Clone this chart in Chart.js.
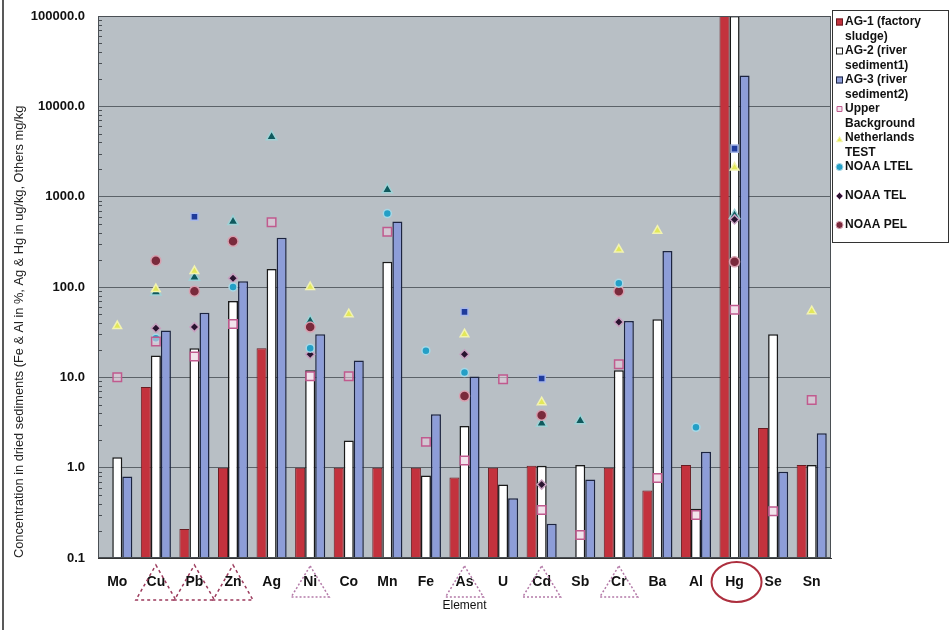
<!DOCTYPE html>
<html>
<head>
<meta charset="utf-8">
<script src="https://cdn.jsdelivr.net/npm/chart.js@4.4.0/dist/chart.umd.min.js"></script>
<style>
  html, body { margin: 0; padding: 0; background: #fff; }
  #wrap { width: 950px; height: 630px; }
</style>
</head>
<body>
<div id="wrap"><canvas id="bar-chart" width="950" height="630"></canvas></div>
<script>
var elements = ['Mo','Cu','Pb','Zn','Ag','Ni','Co','Mn','Fe','As','U','Cd','Sb','Cr','Ba','Al','Hg','Se','Sn'];
var yTicks = [0.1, 1, 10, 100, 1000, 10000, 100000];

// bars
var ag1 = [null, 7.8, 0.21, 1.0, 21, 1.0, 1.0, 1.0, 1.0, 0.78, 1.0, 1.05, null, 1.0, 0.56, 1.07, 100000, 2.75, 1.07];
var ag2 = [1.3, 17.5, 21, 70, 158, 12, 2.0, 190, 0.82, 2.9, 0.65, 1.05, 1.07, 12, 44, 0.35, 100000, 30, 1.07];
var ag3 = [0.8, 33, 52, 116, 350, 30, 15.4, 530, 3.9, 10.2, 0.46, 0.24, 0.74, 42, 250, 1.5, 22000, 0.9, 2.4];

// reference values (markers)
var upperBg  = [10, 25, 17, 39, 520, 10.3, 10.3, 410, 1.93, 1.2, 9.5, 0.34, 0.18, 14, 0.77, 0.3, 56, 0.33, 5.6];
var nlTest   = [37, 95, 150, null, null, 100, 50, null, null, 30, null, 5.3, null, 260, 420, null, 2100, null, 54];
var noaaLtel = [null, 27, null, 100, null, 21, null, 650, 19.7, 11.3, null, null, null, 110, null, 2.8, null, null, null];
var noaaTel  = [null, 35, 36, 125, null, 18, null, null, null, 18, null, 0.65, null, 41, null, null, 560, null, null];
var noaaPel  = [null, 195, 90, 320, null, 36, null, null, null, 6.2, null, 3.8, null, 90, null, null, 190, null, null];
// two more marker series that are in the plot but not in the legend
var series9  = [null, null, 600, null, null, null, null, null, null, 53, null, 9.7, null, null, null, null, 3400, null, null];
var series10 = [null, 88, 128, 530, 4600, 42, null, 1190, null, null, null, 3.1, 3.3, null, null, null, 620, null, null];

// elements marked under the axis
var marked = ['Cu', 'Pb', 'Zn'];
var markedLight = ['Ni', 'As', 'Cd', 'Cr'];
var circled = 'Hg';

Chart.defaults.font.family = "'Liberation Sans', Arial, sans-serif";
Chart.defaults.color = '#111';

function marker(label, data, style, radius, fill, edge, inLegend) {
  return {
    type: 'line', label: label, data: data, showLine: false, order: 0,
    pointStyle: style, pointRadius: radius, pointHoverRadius: radius,
    pointBackgroundColor: fill, pointBorderColor: edge, pointBorderWidth: 1.5,
    inLegend: inLegend
  };
}

var datasets = [
  { type: 'bar', label: 'AG-1 (factory sludge)', data: ag1, backgroundColor: '#c3323d', borderColor: '#6a1c22', borderWidth: 1, order: 1, inLegend: true },
  { type: 'bar', label: 'AG-2 (river sediment1)', data: ag2, backgroundColor: '#ffffff', borderColor: '#1a1a1a', borderWidth: 1.5, order: 1, inLegend: true },
  { type: 'bar', label: 'AG-3 (river sediment2)', data: ag3, backgroundColor: '#8d9dd8', borderColor: '#1c2440', borderWidth: 1.5, order: 1, inLegend: true },
  marker('Upper Background', upperBg, 'rect', 6, 'rgba(232,205,220,0.55)', '#c05a8e', true),
  marker('Netherlands TEST', nlTest, 'triangle', 5, '#e3e858', '#f2f3b0', true),
  marker('NOAA LTEL', noaaLtel, 'circle', 4, '#249fc6', '#a8d8e6', true),
  marker('NOAA TEL', noaaTel, 'rectRot', 4.5, '#2a1430', '#c8a0c0', true),
  marker('NOAA PEL', noaaPel, 'circle', 5, '#7a2a3c', '#d8a0b0', true),
  marker('Series 9', series9, 'rect', 5, '#1f3b9c', '#a8b8e8', false),
  marker('Series 10', series10, 'triangle', 6, '#0f5a5e', '#9fd2d6', false)
];

var decor = {
  id: 'decor',
  beforeDraw: function (chart) {
    var a = chart.chartArea, ctx = chart.ctx;
    ctx.save();
    ctx.fillStyle = '#b8bfc5';
    ctx.fillRect(a.left, a.top, a.right - a.left, a.bottom - a.top);
    ctx.restore();
  },
  afterDraw: function (chart) {
    var a = chart.chartArea, ctx = chart.ctx;
    var xs = chart.scales.x, ys = chart.scales.y;
    ctx.save();
    // plot frame
    ctx.strokeStyle = '#4a4f54';
    ctx.lineWidth = 1;
    ctx.strokeRect(a.left + 0.5, a.top + 0.5, a.right - a.left - 1, a.bottom - a.top - 1);
    // minor log ticks on the left axis
    ctx.beginPath();
    for (var d = 0; d < yTicks.length - 1; d++) {
      for (var m = 2; m < 10; m++) {
        var py = Math.round(ys.getPixelForValue(yTicks[d] * m)) + 0.5;
        ctx.moveTo(a.left, py); ctx.lineTo(a.left + 4, py);
      }
    }
    ctx.stroke();

    // dashed triangles under some labels
    function tri(name, top, base, half, color, dash) {
      var cx = xs.getPixelForValue(elements.indexOf(name));
      ctx.beginPath();
      ctx.setLineDash(dash);
      ctx.strokeStyle = color;
      ctx.lineWidth = 1.5;
      ctx.moveTo(cx, top); ctx.lineTo(cx + half, base); ctx.lineTo(cx - half, base); ctx.closePath();
      ctx.stroke();
    }
    marked.forEach(function (n) { tri(n, 565, 600, 20, '#9c3a5c', [3, 3]); });
    markedLight.forEach(function (n) { tri(n, 566, 597, 19, '#b47aa8', [2, 2]); });
    ctx.setLineDash([]);
    // circle round Hg
    var hx = xs.getPixelForValue(elements.indexOf(circled));
    ctx.beginPath();
    ctx.strokeStyle = '#ad2f3e';
    ctx.lineWidth = 2;
    ctx.ellipse(hx + 2, 582, 25, 20, 0, 0, Math.PI * 2);
    ctx.stroke();

    // scan border on the left
    ctx.strokeStyle = '#222';
    ctx.lineWidth = 1.5;
    ctx.beginPath(); ctx.moveTo(3, 0); ctx.lineTo(3, 630); ctx.stroke();

    // legend
    var lx = 832, ly = 10;
    ctx.strokeStyle = '#333';
    ctx.lineWidth = 1;
    ctx.strokeRect(lx + 0.5, ly + 0.5, 116, 232);
    ctx.font = "bold 12px 'Liberation Sans', Arial, sans-serif";
    ctx.textBaseline = 'middle';
    ctx.fillStyle = '#111';
    var items = chart.data.datasets.filter(function (ds) { return ds.inLegend; });
    items.forEach(function (ds, i) {
      var y0 = 22 + i * 29;
      // wrap text
      var words = ds.label.split(' '), lines = [], cur = '';
      words.forEach(function (w) {
        var t = cur ? cur + ' ' + w : w;
        if (ctx.measureText(t).width > 100 && cur) { lines.push(cur); cur = w; } else { cur = t; }
      });
      lines.push(cur);
      var my = y0 + (i === 4 ? 2 : 0);
      if (ds.type === 'bar') {
        ctx.fillStyle = ds.backgroundColor;
        ctx.fillRect(836, my - 3.5, 7, 7);
        ctx.strokeStyle = ds.borderColor;
        ctx.lineWidth = 1;
        ctx.strokeRect(836.5, my - 3, 6, 6);
      } else {
        ctx.fillStyle = ds.pointBackgroundColor;
        ctx.strokeStyle = ds.pointBorderColor;
        ctx.lineWidth = 1;
        Chart.helpers.drawPoint(ctx, { pointStyle: ds.pointStyle, radius: 3.5, borderWidth: 1, rotation: 0 }, 839.5, my);
      }
      ctx.fillStyle = '#111';
      lines.forEach(function (t, k) { ctx.fillText(t, 845, y0 + k * 14.5); });
    });
    ctx.restore();
  }
};

var ctx = document.getElementById('bar-chart').getContext('2d');
new Chart(ctx, {
  data: { labels: elements, datasets: datasets },
  plugins: [decor],
  options: {
    responsive: false,
    animation: false,
    layout: { padding: { top: 16, right: 119, left: 0, bottom: 0 } },
    datasets: { bar: { categoryPercentage: 0.78, barPercentage: 1.0 } },
    plugins: {
      legend: { display: false },
      tooltip: { enabled: false }
    },
    scales: {
      x: {
        offset: true,
        grid: { display: false, drawTicks: false },
        border: { color: '#333' },
        afterFit: function (s) { s.height = 72; },
        ticks: { font: { size: 14, weight: 'bold' }, color: '#111', padding: 16, maxRotation: 0, autoSkip: false },
        title: { display: true, text: 'Element', font: { size: 12 }, color: '#111', padding: { top: 0, bottom: 17 } }
      },
      y: {
        type: 'logarithmic',
        min: 0.1,
        max: 100000,
        afterBuildTicks: function (s) { s.ticks = yTicks.map(function (v) { return { value: v }; }); },
        afterFit: function (s) { s.width = 98; },
        grid: { color: '#5b6268', lineWidth: 1, drawTicks: true, tickLength: 8, tickColor: 'rgba(0,0,0,0)' },
        border: { color: '#333' },
        ticks: {
          autoSkip: false,
          padding: 5,
          font: { size: 13, weight: 'bold' },
          color: '#111',
          callback: function (v) { return Number(v).toFixed(1); }
        },
        title: {
          display: true,
          align: 'start',
          text: 'Concentration in dried sediments (Fe & Al in %, Ag & Hg in ug/kg, Others mg/kg',
          font: { size: 12.8 },
          color: '#222',
          padding: { top: 12, bottom: 0 }
        }
      }
    }
  }
});
</script>
</body>
</html>
